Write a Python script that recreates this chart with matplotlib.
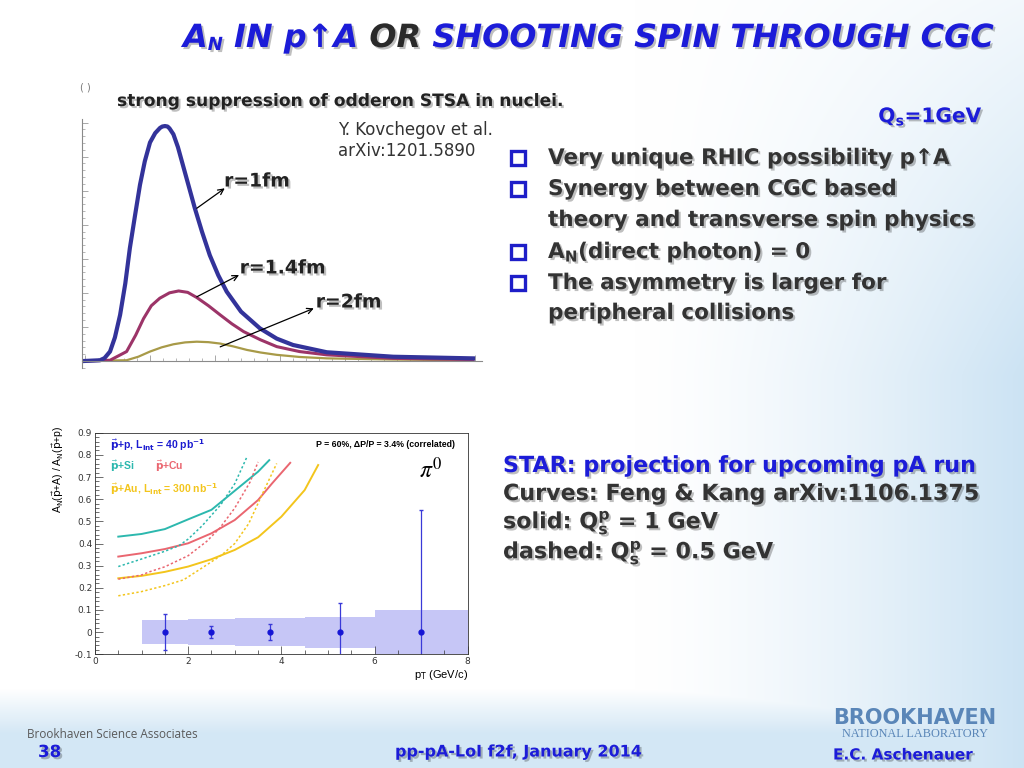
import numpy as np
import matplotlib
matplotlib.use("Agg")
import matplotlib.pyplot as plt
import matplotlib.patheffects as pe
from matplotlib.ticker import MultipleLocator

# ---- top plot: odderon STSA (arb. units) for three nuclear radii
kt_r1 = [0, 0.23, 0.3, 0.385, 0.46, 0.54, 0.62, 0.69, 0.77, 0.846, 0.92, 1.0, 1.08, 1.154,
         1.19, 1.23, 1.27, 1.30, 1.36, 1.43, 1.51, 1.60, 1.69, 1.80, 1.92, 2.05, 2.18, 2.4,
         2.69, 2.95, 3.2, 3.72, 4.74, 5.97]
stsa_r1 = [0, 0.003, 0.012, 0.04, 0.1, 0.196, 0.33, 0.48, 0.62, 0.75, 0.85, 0.93, 0.97, 0.992,
           0.998, 1.0, 0.998, 0.99, 0.965, 0.91, 0.83, 0.74, 0.65, 0.55, 0.45, 0.365, 0.295,
           0.21, 0.139, 0.095, 0.068, 0.037, 0.018, 0.011]
kt_r14 = [0, 0.385, 0.64, 0.78, 0.90, 1.02, 1.15, 1.30, 1.44, 1.58, 1.72, 1.90, 2.08, 2.26,
          2.44, 2.7, 2.95, 3.3, 3.72, 4.74, 5.97]
stsa_r14 = [0, 0.003, 0.04, 0.11, 0.18, 0.235, 0.267, 0.29, 0.298, 0.292, 0.27, 0.235, 0.196,
            0.158, 0.125, 0.09, 0.061, 0.04, 0.026, 0.011, 0.006]
kt_r2 = [0, 0.64, 0.82, 1.0, 1.18, 1.36, 1.54, 1.72, 1.90, 2.08, 2.28, 2.49, 2.7, 2.95, 3.3,
         3.72, 4.74, 5.97]
stsa_r2 = [0, 0.003, 0.018, 0.04, 0.058, 0.071, 0.079, 0.082, 0.08, 0.074, 0.062, 0.047, 0.036,
           0.026, 0.017, 0.011, 0.006, 0.003]

# ---- bottom plot: STAR projection A_N(p+A)/A_N(p+p)
pt_si = [0.5, 1.0, 1.5, 2.0, 2.5, 3.0, 3.5, 3.74]
si_solid = [0.431, 0.443, 0.465, 0.509, 0.552, 0.638, 0.724, 0.776]
pt_cu = [0.5, 1.0, 1.5, 2.0, 2.5, 3.0, 3.5, 3.8, 4.19]
cu_solid = [0.341, 0.356, 0.375, 0.401, 0.446, 0.506, 0.596, 0.671, 0.764]
pt_au = [0.5, 1.0, 1.5, 2.0, 2.5, 3.0, 3.5, 4.0, 4.5, 4.79]
au_solid = [0.243, 0.254, 0.272, 0.296, 0.329, 0.371, 0.428, 0.521, 0.641, 0.754]

pt_si_d = [0.5, 1.0, 1.5, 1.8, 2.0, 2.3, 2.7, 3.0, 3.26]
si_dash = [0.296, 0.33, 0.365, 0.39, 0.42, 0.48, 0.575, 0.67, 0.79]
pt_cu_d = [0.5, 1.0, 1.18, 1.5, 2.0, 2.4, 2.68, 3.0, 3.33, 3.5]
cu_dash = [0.239, 0.258, 0.273, 0.295, 0.345, 0.41, 0.47, 0.56, 0.678, 0.768]
pt_au_d = [0.5, 1.0, 1.5, 1.9, 2.3, 2.72, 3.0, 3.3, 3.58, 3.9]
au_dash = [0.164, 0.183, 0.21, 0.236, 0.29, 0.348, 0.40, 0.49, 0.618, 0.761]

bin_edges = [1.0, 2.0, 3.0, 4.5, 6.0, 8.0]
sys_err = [0.055, 0.058, 0.062, 0.07, 0.1]
pt_points = [1.5, 2.5, 3.75, 5.25, 7.0]
an_points = [0, 0, 0, 0, 0]
stat_err = [0.08, 0.028, 0.035, 0.133, 0.55]

bullets = ["Very unique RHIC possibility p\u2191A",
           "Synergy between CGC based",
           "theory and transverse spin physics",
           r"A$_{\mathbf{N}}$(direct photon) = 0",
           "The asymmetry is larger for",
           "peripheral collisions"]
has_box = [True, True, False, True, True, False]

W, H = 1024, 768
fig = plt.figure(figsize=(W / 100, H / 100), dpi=100)

shadow = [pe.withSimplePatchShadow(offset=(1.5, -1.5), shadow_rgbFace="k", alpha=0.25)]


def fx(x):
    return x / W


def fy(y):
    return 1 - y / H


# background gradient
bg = fig.add_axes([0, 0, 1, 1], zorder=-10)
xx, yy = np.meshgrid(np.linspace(0, 1, W), np.arange(H))
t_right = np.clip((xx - 0.62) / 0.38, 0, 1) ** 1.4 * np.clip(0.25 + yy / 500, 0, 1)
t_bot = np.clip((yy - 688) / 45, 0, 1) * 0.85
t = np.maximum(t_right, t_bot)[..., None]
light = np.array([0.80, 0.89, 0.955])
img = (1 - t) * np.ones(3) + t * light
bg.imshow(img, extent=[0, 1, 0, 1], aspect="auto", origin="upper")
bg.add_patch(plt.Rectangle((fx(40), fy(688)), fx(455), 268 / H, color="white", lw=0))
bg.set_xlim(0, 1)
bg.set_ylim(0, 1)
bg.axis("off")

# title, chained pieces
blue = "#1c1cd8"
tfont = dict(fontweight="bold", fontstyle="italic", path_effects=shadow)
pieces = [("A", blue, 23), ("N", blue, 13), (" IN p\u2191A ", blue, 23), ("OR", "#2a2a2a", 23),
          (" SHOOTING SPIN THROUGH CGC", blue, 23)]
prev = None
for s, c, size in pieces:
    kw = dict(tfont, fontsize=size, color=c)
    if prev is None:
        prev = bg.text(fx(183), fy(54), s, va="bottom", ha="left", **kw)
    else:
        prev = bg.annotate(s, xy=(1, 0), xycoords=prev, va="bottom", ha="left", **kw)

# ---- top plot
ax1 = fig.add_axes([fx(81.75), fy(368), 399.75 / W, 249 / H])
ax1.patch.set_alpha(0)
ax1.plot(kt_r2, stsa_r2, color="#a89a48", lw=1.6)
ax1.plot(kt_r14, stsa_r14, color="#9c3468", lw=2.2)
ax1.plot(kt_r1, stsa_r1, color="#33339a", lw=3.0, solid_joinstyle="round")
ax1.set_xlim(-0.05, 6.1)
ax1.set_ylim(-0.03, 1.03)
for s in ["top", "right"]:
    ax1.spines[s].set_visible(False)
ax1.spines["bottom"].set_position(("data", 0))
for s in ["left", "bottom"]:
    ax1.spines[s].set_color("#8a8a8a")
    ax1.spines[s].set_linewidth(0.8)
ax1.xaxis.set_major_locator(MultipleLocator(1.0))
ax1.xaxis.set_minor_locator(MultipleLocator(0.2))
ax1.yaxis.set_major_locator(MultipleLocator(0.145))
ax1.yaxis.set_minor_locator(MultipleLocator(0.029))
ax1.tick_params(which="both", direction="in", color="#9a9a9a", labelleft=False, labelbottom=False)
ax1.tick_params(which="major", length=4, width=0.6)
ax1.tick_params(which="minor", length=2, width=0.5)

arrow = dict(arrowstyle="->", color="k", lw=0.9, shrinkA=0, shrinkB=0)
labels = [("r=1fm", (1.72, 0.65), (2.15, 0.735), (2.14, 0.766)),
          ("r=1.4fm", (1.72, 0.273), (2.37, 0.366), (2.38, 0.396)),
          ("r=2fm", (2.08, 0.06), (3.52, 0.224), (3.55, 0.251))]
for txt, tail, head, pos in labels:
    ax1.annotate("", xy=head, xytext=tail, arrowprops=arrow)
    ax1.text(pos[0], pos[1], txt, fontsize=13.5, fontweight="bold", color="#222222",
             va="center", ha="left", path_effects=shadow)

fig.text(fx(80), fy(88), "( )", fontsize=7, color="#777777", va="center")
fig.text(fx(117), fy(101), "strong suppression of odderon STSA in nuclei.", fontsize=12.3,
         fontweight="bold", color="#222222", va="center", path_effects=shadow)
fig.text(fx(338), fy(130), "Y. Kovchegov et al.", fontsize=12, color="#333333", va="center")
fig.text(fx(338), fy(151), "arXiv:1201.5890", fontsize=12, color="#333333", va="center")

# right text
fig.text(fx(983), fy(117), r"Q$_{\mathbf{s}}$=1GeV", fontsize=14.5, fontweight="bold",
         color=blue, ha="right", va="center", path_effects=shadow)
line_y = [158, 189, 220, 252, 283, 313]
for s, box, y in zip(bullets, has_box, line_y):
    if box:
        bg.add_patch(plt.Rectangle((fx(511), fy(y + 7)), 14 / W, 14 / H, facecolor="white",
                                   edgecolor="#1e1ec8", lw=2.4, path_effects=shadow))
    fig.text(fx(548), fy(y), s, fontsize=15.5, fontweight="bold", color="#333333",
             va="center", path_effects=shadow)

star_lines = [("STAR: projection for upcoming pA run", blue, 466),
              ("Curves: Feng & Kang arXiv:1106.1375", "#333333", 494),
              (r"solid: Q$_{\mathbf{s}}^{\mathbf{p}}$ = 1 GeV", "#333333", 523),
              (r"dashed: Q$_{\mathbf{s}}^{\mathbf{p}}$ = 0.5 GeV", "#333333", 553)]
for s, c, y in star_lines:
    fig.text(fx(503), fy(y), s, fontsize=16, fontweight="bold", color=c,
             va="center", path_effects=shadow)

# ---- bottom plot
ax2 = fig.add_axes([fx(95), fy(654.3), 372.7 / W, 221.6 / H])
lo = bin_edges[:-1]
widths = np.diff(bin_edges)
ax2.bar(lo, [2 * e for e in sys_err], bottom=[-e for e in sys_err], width=widths,
        align="edge", color="#c6c6f6", lw=0)
c_si, c_cu, c_au = "#2cb8ae", "#ea6670", "#f3c51c"
ax2.plot(pt_si, si_solid, color=c_si, lw=1.4)
ax2.plot(pt_cu, cu_solid, color=c_cu, lw=1.4)
ax2.plot(pt_au, au_solid, color=c_au, lw=1.4)
ax2.plot(pt_si_d, si_dash, color=c_si, lw=1.1, ls=(0, (1.5, 1.5)))
ax2.plot(pt_cu_d, cu_dash, color=c_cu, lw=1.1, ls=(0, (1.5, 1.5)))
ax2.plot(pt_au_d, au_dash, color=c_au, lw=1.1, ls=(0, (1.5, 1.5)))
ax2.errorbar(pt_points, an_points, yerr=stat_err, fmt="o", ms=3.5, color="#1515d5",
             ecolor="#3a3ad8", elinewidth=0.9, capsize=1.5)
ax2.set_xlim(0, 8)
ax2.set_ylim(-0.1, 0.9)
ax2.xaxis.set_minor_locator(MultipleLocator(0.5))
ax2.yaxis.set_minor_locator(MultipleLocator(0.02))
ax2.set_yticks(np.round(np.arange(-0.1, 0.91, 0.1), 1))
ax2.set_yticklabels(["-0.1", "0", "0.1", "0.2", "0.3", "0.4", "0.5", "0.6", "0.7", "0.8", "0.9"])
ax2.set_xticks([0, 2, 4, 6, 8])
ax2.tick_params(which="both", direction="in", labelsize=6.5, width=0.5, pad=2,
                colors="#333333")
ax2.tick_params(which="major", length=6)
ax2.tick_params(which="minor", length=3)
for s in ax2.spines.values():
    s.set_linewidth(0.6)
    s.set_color("#333333")

lf = dict(fontsize=7.5, fontweight="bold", transform=ax2.transAxes, va="center",
          family="Liberation Sans")
ax2.text(0.04, 0.944, r"$\vec{\mathbf{p}}$+p, L$_{\mathbf{int}}$ = 40 pb$^{\mathbf{-1}}$",
         color="#1a1ad0", **lf)
ax2.text(0.04, 0.85, r"$\vec{\mathbf{p}}$+Si", color=c_si, **lf)
ax2.text(0.161, 0.85, r"$\vec{\mathbf{p}}$+Cu", color=c_cu, **lf)
ax2.text(0.04, 0.746, r"$\vec{\mathbf{p}}$+Au, L$_{\mathbf{int}}$ = 300 nb$^{\mathbf{-1}}$",
         color=c_au, **lf)
ax2.text(0.966, 0.949, "P = 60%, \u0394P/P = 3.4% (correlated)", fontsize=6.3,
         fontweight="bold", transform=ax2.transAxes, ha="right", va="center",
         family="Liberation Sans")
ax2.text(0.9, 0.832, r"$\pi^0$", fontsize=17, math_fontfamily="stix",
         transform=ax2.transAxes, ha="center", va="center")
ax2.text(1.0, -0.093, r"p$_\mathrm{T}$ (GeV/c)", fontsize=8, transform=ax2.transAxes,
         ha="right", va="center", family="Liberation Sans")
ax2.text(-0.099, 1.03, r"A$_\mathrm{N}$($\vec{\mathrm{p}}$+A) / A$_\mathrm{N}$($\vec{\mathrm{p}}$+p)",
         fontsize=7.5, rotation=90, transform=ax2.transAxes, ha="center", va="top",
         family="Liberation Sans")

# footer
fig.text(fx(27), fy(735), "Brookhaven Science Associates", fontsize=8.5, color="#5a5a5a",
         family="Open Sans", va="center")
fig.text(fx(38), fy(752), "38", fontsize=12, fontweight="bold", color=blue, va="center",
         path_effects=shadow)
fig.text(fx(395), fy(752), "pp-pA-LoI f2f, January 2014", fontsize=11.5, fontweight="bold",
         color=blue, va="center", path_effects=shadow)
fig.text(fx(915), fy(718), "BROOKHAVEN", fontsize=15, fontweight="heavy", color="#5a86b8",
         ha="center", va="center")
fig.text(fx(915), fy(734), "NATIONAL LABORATORY", fontsize=8.8, color="#5a86b8",
         family="Liberation Serif", ha="center", va="center")
fig.text(fx(833), fy(755), "E.C. Aschenauer", fontsize=11, fontweight="bold", color=blue,
         va="center", path_effects=shadow)

fig.savefig("out.png", dpi=100)
